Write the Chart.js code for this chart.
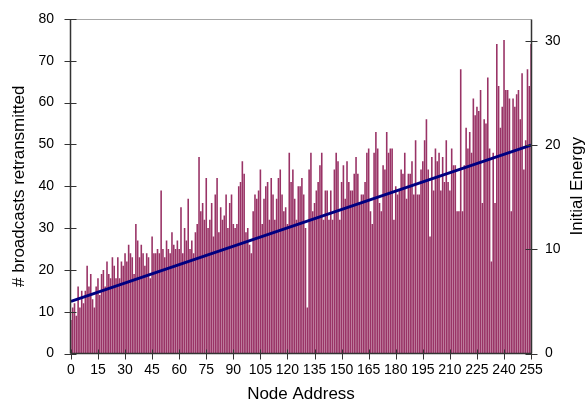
<!DOCTYPE html>
<html>
<head>
<meta charset="utf-8">
<script src="https://cdn.jsdelivr.net/npm/chart.js@4/dist/chart.umd.min.js"></script>
<style>
  html, body { margin: 0; padding: 0; background: #ffffff; }
  #wrap { width: 588px; height: 406px; position: relative; }
</style>
</head>
<body>
<div id="wrap"><canvas id="chart"></canvas></div>
<script>
// Node addresses 0..255 (category index)
const nodeAddress = Array.from({ length: 256 }, (_, i) => i);

// Number of broadcasts each node retransmitted
const retransmitted = [
  8, 11, 12, 9, 16, 11, 15, 12, 15, 21, 16, 19, 13, 11, 16, 18, 14, 19, 20, 16, 22, 19, 18, 23, 21, 18, 23,
  18, 22, 21, 24, 22, 26, 24, 23, 19, 31, 27, 23, 26, 24, 21, 24, 23, 18, 28, 24, 24, 25, 24, 39,
  25, 23, 27, 25, 24, 29, 26, 25, 27, 25, 35, 24,
  30, 27, 37, 25, 27, 24, 29, 31, 47, 34, 36, 32, 42, 30, 32, 36, 28, 38, 42, 29, 35, 32, 33, 38, 30, 36, 38, 31, 30, 31,
  40, 41, 46, 43,
  29, 30, 26, 24, 34, 38, 37, 39, 44, 31, 37, 40, 41, 32, 42, 38, 32, 37, 42, 44, 38, 34, 35, 31, 48, 41, 44, 37, 32, 40, 40, 42,
  38, 30, 11, 44, 48, 34, 36, 39, 41, 45, 48, 32, 39, 39, 32, 39, 32, 44, 48, 46, 32, 41, 45, 37, 46, 41, 39, 39, 43, 47, 43, 36, 38, 38,
  41, 48, 49, 34, 31, 48, 53, 49, 36, 34, 45, 44, 53, 48, 49, 49, 32, 40, 38, 39, 44, 43, 48, 37, 43, 43, 46, 38, 51, 38,
  38, 44, 46, 51, 56, 44, 28, 47, 39, 49, 46, 48, 39, 47, 41, 51, 41, 39, 49, 45, 45, 34, 34, 68, 34, 45, 54, 49, 53, 48, 61,
  57, 59, 58, 63, 36, 56, 55, 66, 49, 22, 48, 36, 74, 64, 54, 59, 75, 63, 63, 61, 34, 61, 59, 62, 63, 56, 67, 44, 51, 68, 64, 74
];

// Initial energy: a straight ramp between the first and last node
const energyNodes = [0, 255];
const energyValues = [5, 20];

// Tick labels
const xTickLabels = [0, 15, 30, 45, 60, 75, 90, 105, 120, 135, 150, 165, 180, 195, 210, 225, 240, 255];
const leftTickLabels = [0, 10, 20, 30, 40, 50, 60, 70, 80];
const rightTickLabels = [0, 10, 20, 30];

const xTitle = 'Node Address';
const leftTitle = '# broadcasts retransmitted';
const rightTitle = 'Initial Energy';

const tickFont = { family: "'Liberation Sans', Arial, Helvetica, sans-serif", size: 14 };
const titleFont = { family: "'Liberation Sans', Arial, Helvetica, sans-serif", size: 17 };

// Axis lines, crossing tick marks, top frame and the right-hand title
const axisDecor = {
  id: 'axisDecor',
  afterDatasetsDraw(chart) {
    const { ctx, chartArea: a, scales } = chart;
    const L = Math.round(a.left) + 0.5;
    const R = Math.round(a.right) - 0.5;
    const B = Math.round(a.bottom) - 0.5;
    const T = Math.round(a.top) + 0.5;
    ctx.save();
    ctx.lineWidth = 1;
    ctx.strokeStyle = '#a8a8a8';
    ctx.beginPath();
    ctx.moveTo(L, T); ctx.lineTo(R, T);
    ctx.stroke();

    ctx.strokeStyle = '#333333';
    ctx.lineWidth = 1.5;
    ctx.beginPath();
    ctx.moveTo(L, T); ctx.lineTo(L, B);
    ctx.moveTo(R, T); ctx.lineTo(R, B);
    ctx.moveTo(L, B); ctx.lineTo(R, B);
    ctx.stroke();

    ctx.lineWidth = 1;
    ctx.beginPath();
    scales.y.ticks.forEach(t => {
      const py = Math.round(scales.y.getPixelForValue(t.value)) + 0.5;
      ctx.moveTo(L - 6, py); ctx.lineTo(L + 6, py);
    });
    scales.y1.ticks.forEach(t => {
      const py = Math.round(scales.y1.getPixelForValue(t.value)) + 0.5;
      ctx.moveTo(R - 6, py); ctx.lineTo(R + 6, py);
    });
    scales.x.ticks.forEach(t => {
      const px = Math.round(scales.x.getPixelForValue(t.value)) + 0.5;
      ctx.moveTo(px, B - 4); ctx.lineTo(px, B + 6);
    });
    ctx.stroke();

    ctx.fillStyle = '#000000';
    ctx.font = `${titleFont.size}px ${titleFont.family}`;
    ctx.textAlign = 'center';
    ctx.textBaseline = 'middle';
    ctx.translate(chart.width - 11, (a.top + a.bottom) / 2);
    ctx.rotate(-Math.PI / 2);
    ctx.fillText(rightTitle, 0, 0);
    ctx.restore();
  }
};

new Chart(document.getElementById('chart'), {
  data: {
    labels: nodeAddress,
    datasets: [
      {
        type: 'line',
        data: energyNodes.map((n, i) => ({ x: n, y: energyValues[i] })),
        yAxisID: 'y1',
        borderColor: '#000080',
        borderWidth: 3,
        pointRadius: 0,
        fill: false,
        order: 0
      },
      {
        type: 'bar',
        data: retransmitted,
        yAxisID: 'y',
        backgroundColor: '#993366',
        barPercentage: 0.88,
        categoryPercentage: 1,
        order: 1
      }
    ]
  },
  options: {
    responsive: true,
    maintainAspectRatio: false,
    animation: false,
    events: [],
    layout: { autoPadding: false, padding: { top: 19, left: 0, right: 0, bottom: 0 } },
    plugins: { legend: { display: false }, tooltip: { enabled: false } },
    scales: {
      x: {
        type: 'linear',
        position: 'bottom',
        offset: false,
        min: -0.5,
        max: 255.5,
        afterBuildTicks: s => { s.ticks = xTickLabels.map(v => ({ value: v })); },
        afterFit: s => { s.height = 52.5; s.paddingLeft = 0; s.paddingRight = 0; },
        grid: { display: false, drawTicks: false, offset: false },
        border: { display: false },
        ticks: { autoSkip: false, maxRotation: 0, minRotation: 0, padding: 8, color: '#000', font: tickFont },
        title: { display: true, text: xTitle, color: '#000', font: titleFont, padding: { top: 0, bottom: 1 } }
      },
      y: {
        position: 'left',
        min: 0,
        max: 80,
        afterBuildTicks: s => { s.ticks = leftTickLabels.map(v => ({ value: v })); },
        afterFit: s => { s.width = 70; s.paddingTop = 0; s.paddingBottom = 0; },
        grid: { display: false, drawTicks: false },
        border: { display: false },
        ticks: { padding: 16, color: '#000', font: tickFont },
        title: { display: true, text: leftTitle, color: '#000', font: titleFont, padding: { top: 9, bottom: 0 } }
      },
      y1: {
        position: 'right',
        min: 0,
        max: 32.1,
        afterBuildTicks: s => { s.ticks = rightTickLabels.map(v => ({ value: v })); },
        afterFit: s => { s.width = 56; s.paddingTop = 0; s.paddingBottom = 0; },
        grid: { display: false, drawTicks: false },
        border: { display: false },
        ticks: { padding: 13, color: '#000', font: tickFont }
      }
    }
  },
  plugins: [axisDecor]
});
</script>
</body>
</html>
